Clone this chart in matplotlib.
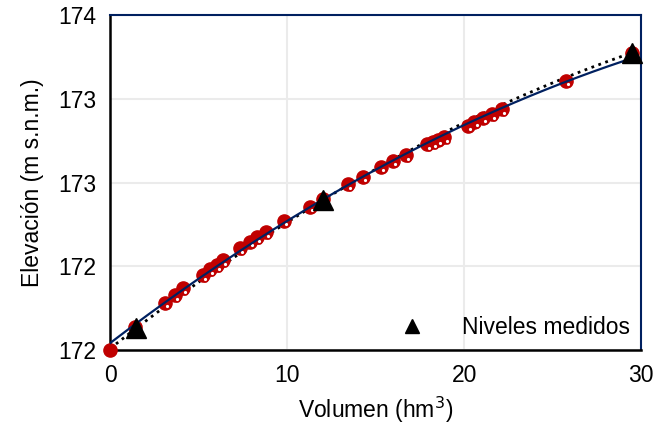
import numpy as np
import matplotlib
matplotlib.use("Agg")
import matplotlib.pyplot as plt

plt.rcParams['font.family'] = ['Liberation Sans', 'DejaVu Sans']

# niveles medidos (triangulos)
vol_medido = [1.47, 12.03, 29.49]
elev_medido = [171.93, 172.696, 173.575]

# puntos calculados (circulos rojos rellenos)
vol_calc = [0.0, 1.41, 3.10, 3.67, 4.10, 5.23, 5.64, 6.02, 6.39, 7.33, 7.90, 8.27,
            8.80, 9.83, 11.28, 12.0, 13.44, 14.28, 15.32, 15.98, 16.69, 17.89,
            18.23, 18.51, 18.89, 20.21, 20.58, 21.05, 21.58, 22.14, 25.75, 29.49]
elev_calc = [171.80, 171.94, 172.082, 172.128, 172.168, 172.248, 172.282, 172.307,
             172.337, 172.407, 172.447, 172.473, 172.503, 172.572, 172.656, 172.70,
             172.789, 172.835, 172.895, 172.930, 172.964, 173.029, 173.042, 173.056,
             173.072, 173.139, 173.163, 173.187, 173.209, 173.237, 173.408, 173.575]

# segunda serie (circulos huecos pequeños)
vol_hueco = [1.53, 3.22, 3.79, 4.22, 5.35, 5.76, 6.14, 6.51, 7.45, 8.02, 8.39,
             8.92, 9.95, 11.40, 13.56, 14.40, 15.44, 16.10, 16.81, 18.01, 18.35,
             18.63, 19.01, 20.33, 20.70, 21.17, 21.70, 22.26, 25.87]
elev_hueco = [171.918, 172.060, 172.106, 172.146, 172.226, 172.260, 172.285, 172.315,
              172.385, 172.425, 172.451, 172.481, 172.550, 172.634, 172.767, 172.813,
              172.873, 172.908, 172.942, 173.007, 173.020, 173.034, 173.050, 173.117,
              173.141, 173.165, 173.187, 173.215, 173.386]

fig, ax = plt.subplots(figsize=(6.72, 4.30), dpi=100)
fig.subplots_adjust(left=0.164, right=0.954, top=0.965, bottom=0.186)

xs = np.linspace(0, 29.5, 200)

# curva cuadratica por los niveles medidos (punteada)
p_med = np.polyfit(vol_medido, elev_medido, 2)
ax.plot(xs, np.polyval(p_med, xs), color='black', linestyle=':', linewidth=2.0, zorder=2)

ax.plot(vol_calc, elev_calc, 'o', color='#C00000', markersize=9.5, zorder=3, clip_on=False)
ax.plot(vol_hueco, elev_hueco, 'o', markerfacecolor='white', markeredgecolor='#C00000',
        markersize=3.5, markeredgewidth=1.2, zorder=3)

# linea de ajuste de los puntos calculados
p_calc = np.polyfit(vol_calc, elev_calc, 2)
ax.plot(xs, np.polyval(p_calc, xs), color='#002060', linewidth=1.6, zorder=4)

ax.plot(vol_medido, elev_medido, '^', color='black', markersize=14, zorder=5,
        clip_on=False, label='Niveles medidos')

ax.set_xlim(0, 30)
ax.set_ylim(171.8, 173.8)
ax.set_xticks([0, 10, 20, 30])
ax.set_yticks(np.arange(171.8, 173.81, 0.5))
ax.set_yticklabels([f"{v:.0f}" for v in np.arange(171.8, 173.81, 0.5)])
ax.tick_params(length=0, labelsize=16.5, pad=10)

ax.grid(True, color='#EBEBEB', linewidth=1.5)
ax.set_axisbelow(True)

for s in ['left', 'bottom']:
    ax.spines[s].set_color('black')
    ax.spines[s].set_linewidth(1.8)
for s in ['top', 'right']:
    ax.spines[s].set_color('#002060')
    ax.spines[s].set_linewidth(1.5)

ax.set_xlabel('Volumen (hm$^3$)', fontsize=16.5, labelpad=6)
ax.set_ylabel('Elevación (m s.n.m.)', fontsize=16.5, labelpad=10)

leg = ax.legend(loc='lower right', frameon=False, fontsize=16.5, handletextpad=1.4,
                borderaxespad=0.1, handlelength=1.5, markerscale=0.75)

fig.savefig('out.png', dpi=100)
